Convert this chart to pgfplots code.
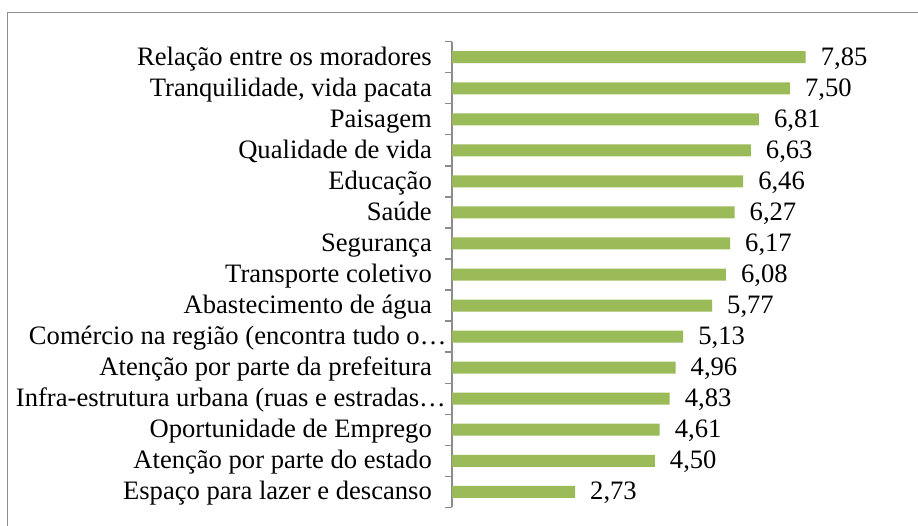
\documentclass[border=0pt]{standalone}
\usepackage{pgfplots}
\pgfplotsset{compat=1.18}
\usepackage{fontspec}
\setmainfont{Liberation Serif}
\definecolor{barg}{HTML}{9BBB59}
\definecolor{framegray}{HTML}{8C8C8C}
\begin{document}
\fontsize{26.6bp}{32bp}\selectfont
\begin{tikzpicture}[x=1bp,y=1bp]
\useasboundingbox (0,0) rectangle (918,-526);
\draw[framegray, line width=1.3bp] (7.3,-530) -- (7.3,-12.3) -- (925,-12.3);
\begin{axis}[
  at={(452bp,-507.3bp)}, anchor=south west,
  scale only axis, width=450.6bp, height=465.6bp,
  xmin=0, xmax=10,
  ymin=-0.5, ymax=14.5, y dir=reverse,
  axis x line=none, axis y line*=left,
  y axis line style={framegray, line width=1.3bp},
  ytick={0,...,14},
  yticklabels={Relação entre os moradores,{Tranquilidade, vida pacata},Paisagem,Qualidade de vida,Educação,Saúde,Segurança,Transporte coletivo,Abastecimento de água,\hbox to 0pt{\hss Comércio na região (encontra tudo o…}\hspace*{-30bp},Atenção por parte da prefeitura,\hbox to 0pt{\hss Infra-estrutura urbana (ruas e estradas…}\hspace*{-29bp},Oportunidade de Emprego,Atenção por parte do estado,Espaço para lazer e descanso},
  minor ytick={-0.5,0.5,...,14.5},
  major tick length=0pt, minor tick length=7bp,
  tick align=outside,
  minor tick style={framegray, line width=1.3bp},
  yticklabel style={anchor=base east, inner sep=0pt, xshift=-20bp, yshift=-7.8bp, font=\fontsize{26.6bp}{32bp}\selectfont},
  clip=false,
  xbar, bar width=12bp,
  /pgf/number format/assume math mode=true,
  nodes near coords={\pgfmathprintnumber[fixed,fixed zerofill,precision=2,use comma]{\pgfplotspointmeta}},
  every node near coord/.append style={anchor=base west, inner sep=0pt, xshift=15bp, yshift=-8bp, font=\fontsize{26.6bp}{32bp}\selectfont},
]
\addplot[fill=barg, draw=none] coordinates {
(7.85,0) (7.50,1) (6.81,2) (6.63,3) (6.46,4) (6.27,5) (6.17,6) (6.08,7)
(5.77,8) (5.13,9) (4.96,10) (4.83,11) (4.61,12) (4.50,13) (2.73,14)};
\end{axis}
\end{tikzpicture}
\end{document}
